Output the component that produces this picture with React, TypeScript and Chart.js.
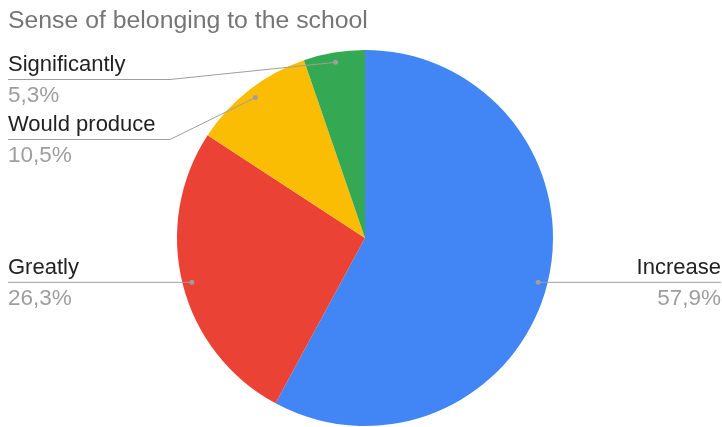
import React, { useEffect, useRef } from "react";
import { Chart, registerables } from "chart.js";

Chart.register(...registerables);

const titleText = "Sense of belonging to the school";
const categories = ["Increase", "Greatly", "Would produce", "Significantly"];
const values = [11, 5, 2, 1];
const percentLabels = ["57,9%", "26,3%", "10,5%", "5,3%"];
const colors = ["#4285F4", "#EA4335", "#FBBC04", "#34A853"];

const FONT = '"Liberation Sans", Arial, sans-serif';

const labelPlugin = {
  id: "sideLabels",
  afterDraw(chart: any) {
    const ctx = chart.ctx;
    const area = chart.chartArea;
    const meta = chart.getDatasetMeta(0);
    ctx.save();
    // title
    ctx.font = `24.8px ${FONT}`;
    ctx.fillStyle = "#757575";
    ctx.textAlign = "left";
    ctx.textBaseline = "alphabetic";
    ctx.fillText(titleText, 8, 28);

    const items: any[] = meta.data.map((arc: any, i: number) => {
      const p = arc.getProps(["x", "y", "startAngle", "endAngle", "outerRadius"], true);
      const mid = (p.startAngle + p.endAngle) / 2;
      const r = p.outerRadius * 0.95;
      return {
        i,
        dx: p.x + Math.cos(mid) * r,
        dy: p.y + Math.sin(mid) * r,
        right: Math.cos(mid) >= 0,
      };
    });
    const minLine = area.top + 29;
    const gap = 60;
    for (const side of [true, false]) {
      const list = items.filter((it) => it.right === side).sort((a, b) => a.dy - b.dy);
      let prev = -Infinity;
      for (const it of list) {
        it.ly = Math.max(it.dy, prev + gap, minLine);
        prev = it.ly;
      }
    }
    const W = chart.width;
    for (const it of items) {
      ctx.strokeStyle = "#9e9e9e";
      ctx.lineWidth = 1;
      ctx.beginPath();
      if (it.right) {
        const bend = Math.max(area.right + 7, it.dx);
        ctx.moveTo(W - 1, it.ly + 0.5);
        ctx.lineTo(bend, it.ly + 0.5);
        ctx.lineTo(it.dx, it.dy + 0.5);
      } else {
        const bend = Math.min(area.left - 7, it.dx);
        ctx.moveTo(8, it.ly + 0.5);
        ctx.lineTo(bend, it.ly + 0.5);
        ctx.lineTo(it.dx, it.dy + 0.5);
      }
      ctx.stroke();
      ctx.fillStyle = "#9e9e9e";
      ctx.beginPath();
      ctx.arc(it.dx, it.dy + 0.5, 2.5, 0, Math.PI * 2);
      ctx.fill();

      ctx.textAlign = it.right ? "right" : "left";
      const tx = it.right ? W - 1 : 8;
      ctx.font = `22px ${FONT}`;
      ctx.fillStyle = "#222222";
      ctx.fillText(categories[it.i], tx, it.ly - 8);
      ctx.font = `22.5px ${FONT}`;
      ctx.fillStyle = "#9e9e9e";
      ctx.fillText(percentLabels[it.i], tx, it.ly + 23);
    }
    ctx.restore();
  },
};

export default function App() {
  const ref = useRef<HTMLCanvasElement>(null);
  useEffect(() => {
    if (!ref.current) return;
    const chart = new Chart(ref.current, {
      type: "pie",
      data: {
        labels: categories,
        datasets: [
          {
            data: values,
            backgroundColor: colors,
            borderWidth: 0,
          },
        ],
      },
      options: {
        responsive: false,
        animation: false,
        layout: { padding: { top: 50, bottom: 1, left: 177, right: 169 } },
        plugins: {
          legend: { display: false },
          tooltip: { enabled: false },
          title: { display: false },
        },
      },
      plugins: [labelPlugin],
    });
    return () => chart.destroy();
  }, []);
  return (
    <div style={{ position: "absolute", left: 0, top: 0, width: 722, height: 427, background: "#fff" }}>
      <canvas ref={ref} width={722} height={427} />
    </div>
  );
}
